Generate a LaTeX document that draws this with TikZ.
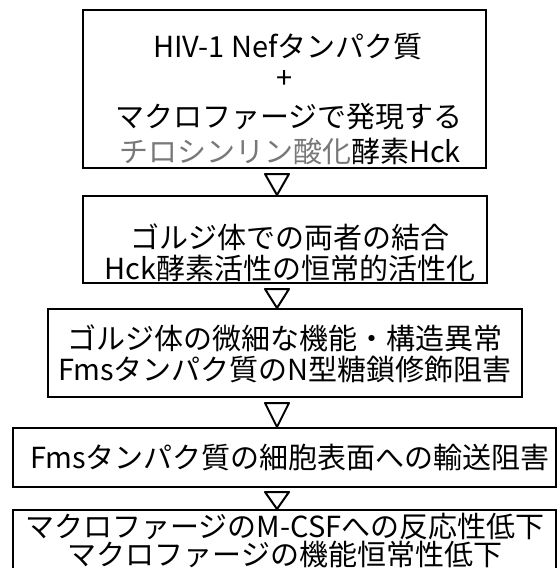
\documentclass[tikz,border=0pt]{standalone}
\usepackage{fontspec}
\setmainfont{Noto Sans CJK JP}
\usetikzlibrary{calc}
\definecolor{minchogray}{RGB}{120,120,120}
\begin{document}
\begin{tikzpicture}[x=1pt,y=-1pt,
  box/.style={draw, line width=2pt, inner sep=0pt},
  txt/.style={font=\fontsize{29}{34}\selectfont, inner sep=0pt, anchor=center},
  tri/.style={draw, line width=2pt, line join=round, fill=white}]
\useasboundingbox (0,0) rectangle (557,568);
% boxes
\node[box, minimum width=403pt, minimum height=158pt] (b1) at (284.5,89) {};
\node[box, minimum width=404pt, minimum height=87pt] (b2) at (285,239.5) {};
\node[box, minimum width=474pt, minimum height=88pt] (b3) at (285,353) {};
\node[box, minimum width=543pt, minimum height=59pt] (b4) at (284.5,457.5) {};
\node[box, minimum width=543pt, minimum height=60pt] (b5) at (284.5,540) {};
% texts
\node[txt] (t1a) at (288,47) {HIV-1 Nefタンパク質};
\node[txt] (t1b) at (285,79) {+};
\node[txt] (t1c) at (289,117) {マクロファージで発現する};
\node[txt] (t1d) at (290,151) {\textcolor{minchogray}{チロシンリン酸化}酵素Hck};
\node[txt] (t2a) at (290,237) {ゴルジ体での両者の結合};
\node[txt] (t2b) at (290,268) {Hck酵素活性の恒常的活性化};
\node[txt] (t3a) at (285,338) {ゴルジ体の微細な機能・構造異常};
\node[txt] (t3b) at (285,370) {Fmsタンパク質のN型糖鎖修飾阻害};
\node[txt] (t4) at (290,458) {Fmsタンパク質の細胞表面への輸送阻害};
\node[txt] (t5a) at (285,527) {マクロファージのM-CSFへの反応性低下};
\node[txt] (t5b) at (285,554) {マクロファージの機能恒常性低下};
% triangle connectors
\draw[tri] ($(b1.south)+(-19.5,5)$) -- ++(24,0) -- ($(b2.north)+(-8,0)$) -- cycle;
\draw[tri] ($(b2.south)+(-20,5)$) -- ++(24,0) -- ($(b3.north)+(-8,0)$) -- cycle;
\draw[tri] ($(b3.south)+(-20,5)$) -- ++(24,0) -- ($(b4.north)+(-7.5,0)$) -- cycle;
\draw[tri] ($(b4.south)+(-19.5,4)$) -- ++(24,0) -- ($(b5.north)+(-7.5,0)$) -- cycle;
\end{tikzpicture}
\end{document}
